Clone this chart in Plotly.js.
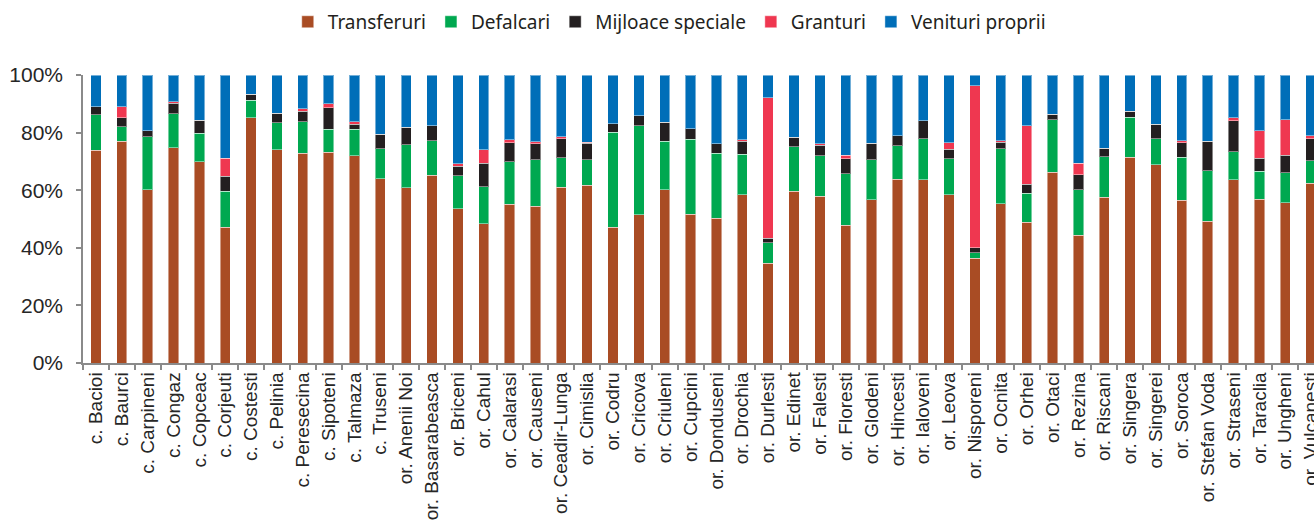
<!DOCTYPE html>
<html>
<head>
<meta charset="utf-8">
<script src="https://cdn.plot.ly/plotly-3.0.1.min.js"></script>
<style>
  html, body { margin: 0; padding: 0; background: #ffffff; overflow: hidden; }
  #chart { width: 1340px; height: 522px; }
</style>
</head>
<body>
<div id="chart"></div>
<script>
// Structura veniturilor bugetelor locale, pe unitati administrativ-teritoriale (%)
const categories = [
  'c. Bacioi', 'c. Baurci', 'c. Carpineni', 'c. Congaz', 'c. Copceac', 'c. Corjeuti',
  'c. Costesti', 'c. Pelinia', 'c. Peresecina', 'c. Sipoteni', 'c. Talmaza', 'c. Truseni',
  'or. Anenii Noi', 'or. Basarabeasca', 'or. Briceni', 'or. Cahul', 'or. Calarasi', 'or. Causeni',
  'or. Ceadir-Lunga', 'or. Cimislia', 'or. Codru', 'or. Cricova', 'or. Criuleni', 'or. Cupcini',
  'or. Donduseni', 'or. Drochia', 'or. Durlesti', 'or. Edinet', 'or. Falesti', 'or. Floresti',
  'or. Glodeni', 'or. Hincesti', 'or. Ialoveni', 'or. Leova', 'or. Nisporeni', 'or. Ocnita',
  'or. Orhei', 'or. Otaci', 'or. Rezina', 'or. Riscani', 'or. Singera', 'or. Singerei',
  'or. Soroca', 'or. Stefan Voda', 'or. Straseni', 'or. Taraclia', 'or. Ungheni', 'or. Vulcanesti'
];

const transferuri = [
  73.8, 77.0, 60.1, 74.7, 69.8, 47.1, 85.1, 74.0, 72.8, 73.2, 71.9, 63.9,
  60.8, 65.2, 53.6, 48.4, 55.2, 54.4, 61.0, 61.7, 47.2, 51.4, 60.1, 51.6,
  50.2, 58.4, 34.6, 59.6, 57.9, 47.9, 56.7, 63.8, 63.6, 58.4, 36.4, 55.3,
  48.8, 66.3, 44.3, 57.5, 71.4, 68.8, 56.5, 49.2, 63.6, 56.8, 55.6, 62.4
];

const defalcari = [
  12.4, 5.1, 18.4, 11.9, 9.9, 12.5, 6.2, 9.5, 11.0, 8.0, 9.2, 10.5,
  15.0, 12.0, 11.5, 12.8, 14.7, 16.2, 10.3, 8.9, 32.9, 31.0, 16.9, 26.1,
  22.7, 14.1, 7.1, 15.5, 14.1, 17.8, 13.9, 11.7, 14.2, 12.5, 1.9, 19.1,
  10.1, 18.2, 15.8, 14.2, 13.9, 9.1, 15.0, 17.5, 9.8, 9.7, 10.5, 7.9
];

const mijloaceSpeciale = [
  2.8, 3.1, 2.1, 3.6, 4.6, 5.2, 2.0, 3.2, 3.7, 7.5, 1.8, 5.1,
  6.1, 5.2, 3.3, 8.2, 6.6, 5.5, 6.5, 5.7, 2.9, 3.5, 6.6, 3.6,
  3.2, 4.5, 1.6, 3.3, 3.6, 5.3, 5.7, 3.4, 6.4, 3.3, 1.8, 2.3,
  3.2, 1.8, 5.2, 2.9, 2.2, 5.0, 4.9, 10.3, 10.8, 4.6, 6.0, 7.5
];

const granturi = [
  0, 3.8, 0, 0.6, 0, 6.3, 0, 0, 0.7, 1.3, 0.9, 0,
  0, 0, 0.8, 4.6, 1.1, 0.8, 0.8, 0.4, 0, 0, 0, 0,
  0, 0.5, 48.8, 0, 0.6, 1.2, 0, 0, 0, 2.3, 56.2, 0.4,
  20.2, 0, 4.1, 0, 0, 0, 0.7, 0, 1.0, 9.6, 12.4, 1.1
];

const venituriProprii = [
  11.0, 11.0, 19.4, 9.2, 15.7, 28.9, 6.7, 13.3, 11.8, 10.0, 16.2, 20.5,
  18.1, 17.6, 30.8, 26.0, 22.4, 23.1, 21.4, 23.3, 17.0, 14.1, 16.4, 18.7,
  23.9, 22.5, 7.9, 21.6, 23.8, 27.8, 23.7, 21.1, 15.8, 23.5, 3.7, 22.9,
  17.7, 13.7, 30.6, 25.4, 12.5, 17.1, 22.9, 23.0, 14.8, 19.3, 15.5, 21.1
];

const yTickValues = [0, 20, 40, 60, 80, 100];
const yTickLabels = ['0%', '20%', '40%', '60%', '80%', '100%'];

const seriesList = [
  { name: 'Transferuri',       values: transferuri,      color: '#A94C24' },
  { name: 'Defalcari',         values: defalcari,        color: '#00A850' },
  { name: 'Mijloace speciale', values: mijloaceSpeciale, color: '#231F20' },
  { name: 'Granturi',          values: granturi,         color: '#EF3750' },
  { name: 'Venituri proprii',  values: venituriProprii,  color: '#006EB8' }
];

const traces = seriesList.map(s => ({
  type: 'bar',
  name: s.name,
  x: categories,
  y: s.values,
  marker: {
    color: s.color,
    line: { color: 'rgba(255,255,255,0.45)', width: 1 }
  },
  hoverinfo: 'x+y+name'
}));

const axisGray = '#8A8A8A';

const layout = {
  width: 1340,
  height: 522,
  margin: { l: 83, r: 16, t: 75, b: 159 },
  paper_bgcolor: '#ffffff',
  plot_bgcolor: '#ffffff',
  barmode: 'stack',
  bargap: 0.6,
  showlegend: true,
  legend: {
    orientation: 'h',
    xref: 'paper',
    x: 0.165,
    xanchor: 'left',
    yref: 'container',
    y: 0.958,
    yanchor: 'middle',
    font: { family: 'Noto Sans, sans-serif', size: 19, color: '#231F20' },
    itemclick: false,
    traceorder: 'normal'
  },
  xaxis: {
    type: 'category',
    showgrid: false,
    zeroline: false,
    showline: true,
    linecolor: axisGray,
    linewidth: 1.5,
    ticks: 'outside',
    tickson: 'boundaries',
    ticklen: 5,
    tickcolor: axisGray,
    tickwidth: 1.5,
    tickangle: -90,
    automargin: false,
    tickfont: { family: 'Liberation Sans, Arial, sans-serif', size: 19, color: '#262626' }
  },
  yaxis: {
    range: [0, 100],
    tickmode: 'array',
    tickvals: yTickValues,
    ticktext: yTickLabels,
    showgrid: false,
    zeroline: false,
    showline: true,
    linecolor: axisGray,
    linewidth: 1.5,
    ticks: 'outside',
    ticklen: 5,
    tickcolor: axisGray,
    tickwidth: 1.5,
    automargin: false,
    ticklabelstandoff: 9,
    tickfont: { family: 'Liberation Sans, Arial, sans-serif', size: 21, color: '#262626' }
  }
};

Plotly.newPlot('chart', traces, layout, { displayModeBar: false, responsive: false });
</script>
</body>
</html>
